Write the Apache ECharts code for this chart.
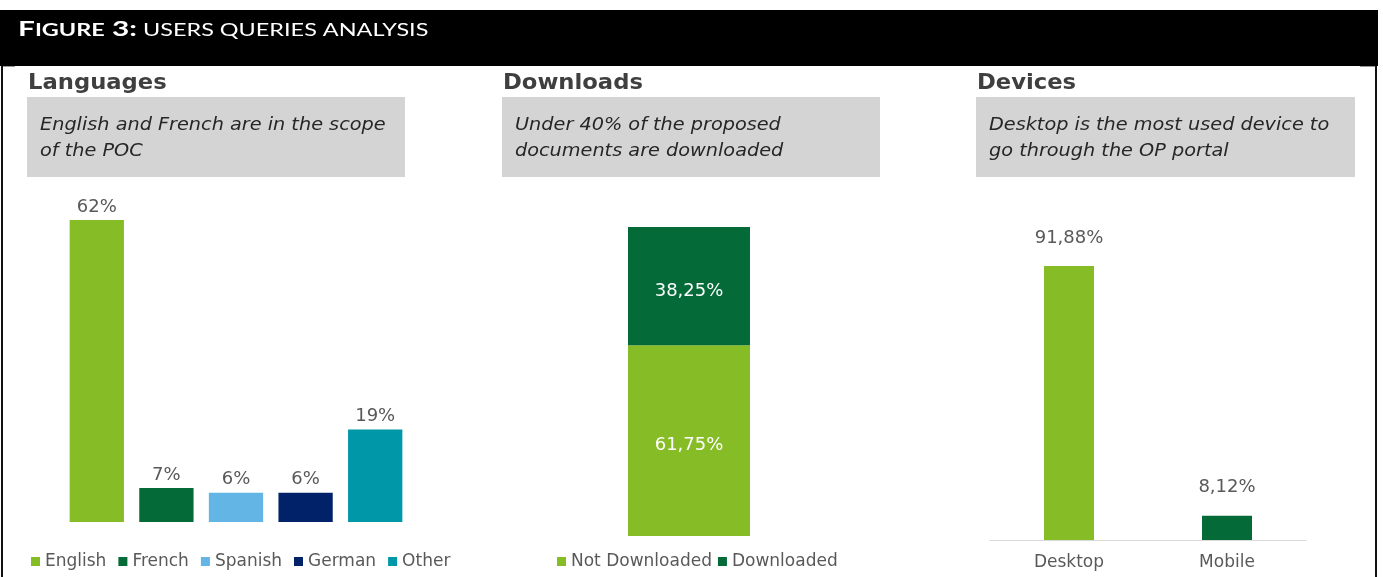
<!DOCTYPE html>
<html>
<head>
<meta charset="utf-8">
<script src="https://cdn.jsdelivr.net/npm/echarts@6/dist/echarts.min.js"></script>
<style>
html,body{margin:0;padding:0;background:#fff;}
#c{width:1383px;height:577px;}
</style>
</head>
<body>
<div id="c"></div>
<script>
// ---- data ----
var langCategories = ['English', 'French', 'Spanish', 'German', 'Other'];
var langValues = [62, 7, 6, 6, 19];
var langColors = ['#86bc25', '#046a38', '#62b5e5', '#012169', '#0097a9'];

var dlSeriesNames = ['Not Downloaded', 'Downloaded'];
var dlValues = [61.75, 38.25];
var dlColors = ['#86bc25', '#046a38'];

var devCategories = ['Desktop', 'Mobile'];
var devValues = [91.88, 8.12];
var devColors = ['#86bc25', '#046a38'];

var panelTitles = ['Languages', 'Downloads', 'Devices'];
var panelNotes = [
  ['English and French are in the scope', 'of the POC'],
  ['Under 40% of the proposed', 'documents are downloaded'],
  ['Desktop is the most used device to', 'go through the OP portal']
];

// ---- build ----
var FONT = '"DejaVu Sans", Verdana, sans-serif';
var labelGray = '#595959';

function comma(v) { return v.toFixed(2).replace('.', ',') + '%'; }

var series = [];
langCategories.forEach(function (name, i) {
  var d = langCategories.map(function (_, j) { return j === i ? langValues[i] : '-'; });
  series.push({
    type: 'bar', name: name, xAxisIndex: 0, yAxisIndex: 0, stack: 'lang',
    data: d, barWidth: '78%',
    itemStyle: { color: langColors[i] },
    label: { show: true, position: 'top', distance: 4, color: labelGray,
      fontFamily: FONT, fontSize: 18, formatter: function (p) { return Math.round(p.value) + '%'; } }
  });
});
dlSeriesNames.forEach(function (name, i) {
  series.push({
    type: 'bar', name: name, xAxisIndex: 1, yAxisIndex: 1, stack: 'dl',
    data: [dlValues[i]], barWidth: 122,
    itemStyle: { color: dlColors[i] },
    label: { show: true, position: 'inside', offset: [0, 5], color: '#ffffff', fontFamily: FONT, fontSize: 18,
      formatter: function (p) { return comma(p.value); } }
  });
});
series.push({
  type: 'bar', name: 'Devices', xAxisIndex: 2, yAxisIndex: 2,
  data: devValues.map(function (v, i) { return { value: v, itemStyle: { color: devColors[i] } }; }),
  barWidth: 50,
  label: { show: true, position: 'top', distance: 19, color: labelGray, fontFamily: FONT, fontSize: 18,
    formatter: function (p) { return comma(p.value); } }
});

var graphics = [
  { type: 'rect', shape: { x: 0, y: 10, width: 1378, height: 56 }, style: { fill: '#000' }, z: 1 },
  { type: 'rect', shape: { x: 1, y: 66, width: 2, height: 511 }, style: { fill: '#111' }, z: 1 },
  { type: 'rect', shape: { x: 1375, y: 66, width: 2, height: 511 }, style: { fill: '#111' }, z: 1 },
  { type: 'rect', shape: { x: 3, y: 66, width: 12, height: 1 }, style: { fill: '#999' }, z: 1 },
  { type: 'rect', shape: { x: 1360, y: 66, width: 15, height: 1 }, style: { fill: '#999' }, z: 1 },
  { type: 'text', x: 18, y: 29, z: 2, scaleX: 1.42,
    style: { text: '{a|F}{b|IGURE}{a| 3:}{c| USERS QUERIES ANALYSIS}', verticalAlign: 'middle',
      rich: {
        a: { fontFamily: 'Lato', fontWeight: 'bold', fontSize: 21, fill: '#fff', verticalAlign: 'bottom' },
        b: { fontFamily: 'Lato', fontWeight: 'bold', fontSize: 16.5, fill: '#fff', verticalAlign: 'bottom' },
        c: { fontFamily: 'Lato', fontSize: 16.5, fill: '#fff', verticalAlign: 'bottom' }
      } } }
];
var panelX = [27, 502, 976];
var boxW = [378, 378, 379];
panelTitles.forEach(function (t, i) {
  graphics.push({ type: 'text', x: panelX[i] + 1, y: 84, z: 2, scaleX: 1.08,
    style: { text: t, fontFamily: FONT, fontWeight: 'bold', fontSize: 21, fill: '#3f3f3f', verticalAlign: 'middle' } });
  graphics.push({ type: 'rect', shape: { x: panelX[i], y: 97, width: boxW[i], height: 80 },
    style: { fill: '#d4d4d4' }, z: 1 });
  panelNotes[i].forEach(function (line, k) {
    graphics.push({ type: 'text', x: panelX[i] + 13, y: 125 + k * 26, z: 2, scaleX: 1.07,
      style: { text: line, fontFamily: FONT, fontStyle: 'italic', fontSize: 18, fill: '#262626', verticalAlign: 'middle' } });
  });
});

var hiddenY = function (idx, max) {
  return { type: 'value', gridIndex: idx, min: 0, max: max, show: false, splitLine: { show: false } };
};

var option = {
  animation: false,
  backgroundColor: '#fff',
  grid: [
    { left: 62, top: 220, width: 348, height: 302 },
    { left: 614, top: 227, width: 150, height: 309 },
    { left: 990, top: 266, width: 316, height: 274 }
  ],
  xAxis: [
    { type: 'category', gridIndex: 0, data: langCategories, show: false },
    { type: 'category', gridIndex: 1, data: ['Downloads'], show: false },
    { type: 'category', gridIndex: 2, data: devCategories,
      axisLine: { show: true, lineStyle: { color: '#d9d9d9', width: 1 } },
      axisTick: { show: false },
      axisLabel: { color: labelGray, fontFamily: FONT, fontSize: 17, margin: 14 } }
  ],
  yAxis: [hiddenY(0, 62), hiddenY(1, 100), hiddenY(2, 91.88)],
  legend: [
    { data: langCategories, left: 26, top: 548, icon: 'rect', itemWidth: 9, itemHeight: 9, itemGap: 12,
      textStyle: { color: labelGray, fontFamily: FONT, fontSize: 17 }, selectedMode: false },
    { data: dlSeriesNames, left: 552, top: 548, icon: 'rect', itemWidth: 9, itemHeight: 9, itemGap: 6,
      textStyle: { color: labelGray, fontFamily: FONT, fontSize: 17 }, selectedMode: false }
  ],
  graphic: graphics,
  series: series
};

var chart = echarts.init(document.getElementById('c'), null, { renderer: 'canvas' });
chart.setOption(option);
</script>
</body>
</html>
